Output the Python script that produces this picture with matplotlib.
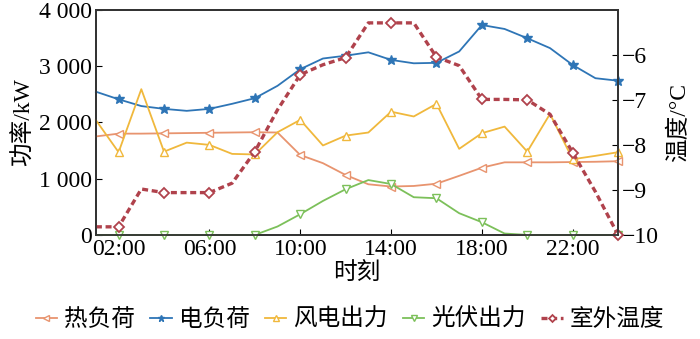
import matplotlib
matplotlib.use("Agg")
import matplotlib.pyplot as plt
from matplotlib.ticker import FuncFormatter

plt.rcParams['font.family'] = ['Liberation Serif', 'Noto Sans CJK SC', 'DejaVu Sans']
plt.rcParams['font.size'] = 17

# 数据（逐时）
hours = list(range(1, 25))
heat_load = [1750, 1800, 1800, 1805, 1810, 1815, 1820, 1825, 1820, 1420, 1275, 1065,
             900, 860, 870, 910, 1050, 1195, 1290, 1290, 1290, 1295, 1300, 1310]
elec_load = [2545, 2410, 2290, 2240, 2205, 2240, 2330, 2430, 2650, 2945, 3135, 3185,
             3245, 3110, 3050, 3058, 3260, 3730, 3660, 3495, 3320, 3020, 2785, 2740]
wind_power = [2040, 1470, 2590, 1480, 1640, 1600, 1440, 1430, 1825, 2045, 1590, 1765,
              1820, 2190, 2105, 2330, 1530, 1808, 1925, 1480, 2150, 1345, 1405, 1470]
pv_power = [0, 0, 0, 0, 0, 0, 0, 0, 150, 368, 604, 812,
            975, 905, 670, 652, 386, 226, 25, 0, 0, 0, 0, 0]
temperature = [-9.82, -9.82, -8.98, -9.06, -9.06, -9.06, -8.85, -8.15, -7.22, -6.44, -6.22, -6.06,
               -5.29, -5.29, -5.29, -6.05, -6.24, -6.99, -6.99, -7.0, -7.32, -8.17, -9.04, -10.0]
xtick_pos = [2, 6, 10, 14, 18, 22]
xtick_labels = ['02:00', '06:00', '10:00', '14:00', '18:00', '22:00']

fig = plt.figure(figsize=(7, 3.39), dpi=100)
ax = fig.add_axes([0.137, 0.307, 0.746, 0.664])
ax2 = ax.twinx()

mk = slice(1, None, 2)
l1, = ax.plot(hours, heat_load, color='#E8946F', lw=1.3, marker='<', ms=6,
              mfc='white', mec='#E8946F', markevery=mk, label='热负荷', clip_on=False, zorder=3)
l2, = ax.plot(hours, elec_load, color='#2E75B6', lw=1.3, marker='*', ms=7,
              markevery=mk, label='电负荷', clip_on=False, zorder=3)
l3, = ax.plot(hours, wind_power, color='#F0B83C', lw=1.3, marker='^', ms=6,
              mfc='white', mec='#F0B83C', markevery=mk, label='风电出力', clip_on=False, zorder=3)
l4, = ax.plot(hours, pv_power, color='#7CC05A', lw=1.3, marker='v', ms=6,
              mfc='white', mec='#7CC05A', markevery=mk, label='光伏出力', clip_on=False, zorder=3)
l5, = ax2.plot(hours, temperature, color='#B0424C', lw=2.4, ls=(0, (1.8, 1.1)), marker='D', ms=5,
               mfc='white', mec='#B0424C', mew=1.3, markevery=mk, label='室外温度', clip_on=False)

ax.set_xlim(1, 24)
ax.set_ylim(0, 4000)
ax2.set_ylim(-10, -5)
ax.set_yticks([0, 1000, 2000, 3000, 4000])
ax.yaxis.set_major_formatter(FuncFormatter(lambda v, p: f"{int(v):,}".replace(",", " ")))
ax2.set_yticks([-10, -9, -8, -7, -6])
ax.set_xticks(xtick_pos)
ax.set_xticklabels(xtick_labels)

ax.tick_params(direction='in', length=4, labelsize=17, pad=3)
ax2.tick_params(direction='in', length=4, labelsize=17, pad=3)
for a in (ax, ax2):
    for s in a.spines.values():
        s.set_linewidth(1.3)
        s.set_color('#333333')

ax.set_xlabel('时刻', fontsize=17, labelpad=2)
ax.set_ylabel('功率/kW', fontsize=17, labelpad=3)
ax2.set_ylabel('温度/°C', fontsize=17, labelpad=6)

fig.legend(handles=[l1, l2, l3, l4, l5], loc='center', bbox_to_anchor=(0.5, 0.056),
           ncol=5, frameon=False, fontsize=17, handlelength=0.9, handletextpad=0.3,
           columnspacing=0.65, markerscale=0.7)

fig.savefig('out.png', dpi=100)
